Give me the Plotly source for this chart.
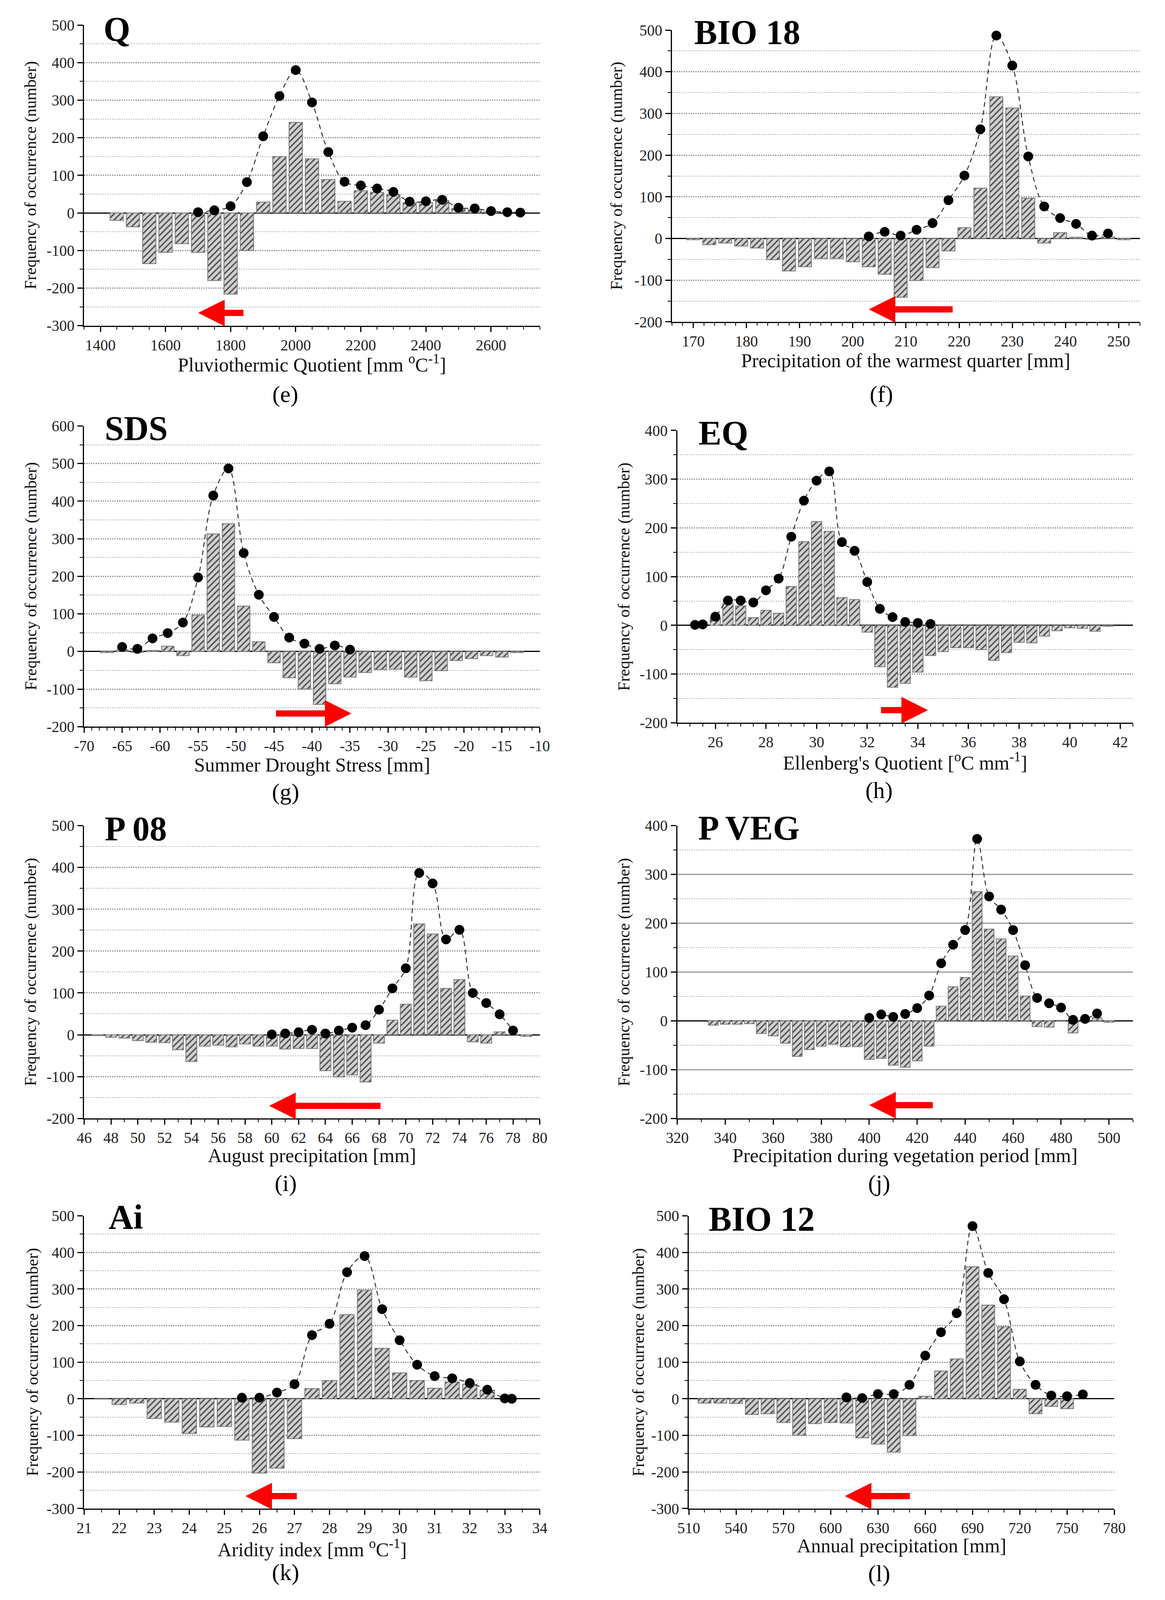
import plotly.graph_objects as go

W, H = 2982, 4971
FONT = "Liberation Serif"

# ---- (e) Q : Pluviothermic Quotient
q_bar_x = [1450, 1500, 1550, 1600, 1650, 1700, 1750, 1800, 1850, 1900, 1950, 2000,
           2050, 2100, 2150, 2200, 2250, 2300, 2350, 2400, 2450, 2500, 2550, 2600]
q_bar_y = [-20, -37, -135, -105, -82, -105, -180, -216, -100, 29, 150, 241,
           144, 89, 31, 59, 55, 49, 27, 28, 33, 12, 9, 3]
q_dot_x = [1700, 1750, 1800, 1850, 1900, 1950, 2000, 2050, 2100, 2150, 2200,
           2250, 2300, 2350, 2400, 2450, 2500, 2550, 2600, 2650, 2690]
q_dot_y = [2, 7, 18, 82, 204, 311, 380, 294, 162, 83, 73, 65, 56, 30, 31, 35, 14, 12, 5, 2, 1]
q_xticks = [1400, 1600, 1800, 2000, 2200, 2400, 2600]
q_arrow = [1843, 1700, -266]  # tail x, head x, y

# ---- (f) BIO 18 : precipitation of the warmest quarter
b18_bar_x = [170, 173, 176, 179, 182, 185, 188, 191, 194, 197, 200, 203, 206, 209,
             212, 215, 218, 221, 224, 227, 230, 233, 236, 239, 242, 245, 248, 251]
b18_bar_y = [-3, -15, -11, -18, -23, -51, -78, -68, -48, -48, -56, -68, -86, -141,
             -101, -70, -30, 26, 121, 340, 313, 97, -11, 14, 3, -2, 4, -3]
b18_dot_x = [203, 206, 209, 212, 215, 218, 221, 224, 227, 230, 233, 236, 239, 242, 245, 248]
b18_dot_y = [5, 16, 7, 21, 37, 92, 151, 262, 487, 415, 197, 77, 49, 35, 7, 12]
b18_xticks = [170, 180, 190, 200, 210, 220, 230, 240, 250]
b18_arrow = [219, 203, -170]

# ---- (g) SDS : summer drought stress
sds_bar_x = [-67, -65, -63, -61, -59, -57, -55, -53, -51, -49, -47, -45, -43, -41,
             -39, -37, -35, -33, -31, -29, -27, -25, -23, -21, -19, -17, -15, -13]
sds_bar_y = [-3, 4, -2, 3, 14, -11, 97, 313, 340, 121, 26, -30, -70, -100,
             -141, -86, -68, -56, -48, -47, -68, -78, -51, -24, -19, -11, -15, -3]
sds_dot_x = [-65, -63, -61, -59, -57, -55, -53, -51, -49, -47, -45, -43, -41, -39, -37, -35]
sds_dot_y = [12, 7, 35, 49, 77, 197, 415, 487, 262, 151, 92, 37, 21, 7, 16, 5]
sds_xticks = [-70, -65, -60, -55, -50, -45, -40, -35, -30, -25, -20, -15, -10]
sds_arrow = [-44.9, -34.8, -165]

# ---- (h) EQ : Ellenberg's quotient
eq_bar_x = [26, 26.5, 27, 27.5, 28, 28.5, 29, 29.5, 30, 30.5, 31, 31.5, 32, 32.5, 33, 33.5,
            34, 34.5, 35, 35.5, 36, 36.5, 37, 37.5, 38, 38.5, 39, 39.5, 40, 40.5, 41, 41.5]
eq_bar_y = [16, 45, 40, 16, 31, 25, 80, 172, 213, 193, 57, 53, -14, -85, -127, -119,
            -96, -62, -54, -46, -46, -50, -72, -56, -35, -36, -22, -11, -5, -6, -12, -2]
eq_dot_x = [25.2, 25.5, 26, 26.5, 27, 27.5, 28, 28.5, 29, 29.5, 30, 30.5, 31, 31.5,
            32, 32.5, 33, 33.5, 34, 34.5]
eq_dot_y = [1, 2, 18, 51, 51, 47, 72, 96, 182, 256, 297, 316, 171, 153, 89, 34, 17, 7, 5, 3]
eq_xticks = [26, 28, 30, 32, 34, 36, 38, 40, 42]
eq_arrow = [32.5, 34.4, -174]

# ---- (i) P 08 : August precipitation
p08_bar_x = [47, 48, 49, 50, 51, 52, 53, 54, 55, 56, 57, 58, 59, 60, 61, 62, 63,
             64, 65, 66, 67, 68, 69, 70, 71, 72, 73, 74, 75, 76, 77, 78, 79]
p08_bar_y = [-2, -6, -8, -14, -18, -19, -36, -64, -27, -25, -29, -22, -27, -27, -34, -33, -33,
             -86, -101, -96, -113, -20, 35, 73, 265, 241, 111, 132, -17, -20, 7, 0, -4]
p08_dot_x = [60, 61, 62, 63, 64, 65, 66, 67, 68, 69, 70, 71, 72, 73, 74, 75, 76, 77, 78]
p08_dot_y = [1, 3, 6, 12, 3, 10, 17, 23, 60, 111, 159, 387, 362, 228, 251, 100, 76, 49, 10]
p08_xticks = [46, 48, 50, 52, 54, 56, 58, 60, 62, 64, 66, 68, 70, 72, 74, 76, 78, 80]
p08_arrow = [68.2, 59.8, -170]

# ---- (j) P VEG : precipitation during vegetation period
pveg_bar_x = [335, 340, 345, 350, 355, 360, 365, 370, 375, 380, 385, 390, 395, 400, 405, 410, 415,
              420, 425, 430, 435, 440, 445, 450, 455, 460, 465, 470, 475, 480, 485, 490, 495, 500]
pveg_bar_y = [-9, -7, -7, -6, -26, -31, -46, -73, -59, -52, -48, -53, -53, -79, -77, -91, -95,
              -82, -52, 30, 70, 89, 265, 188, 168, 133, 51, -12, -13, 1, -25, -2, 6, -3]
pveg_dot_x = [400, 405, 410, 415, 420, 425, 430, 435, 440, 445, 450, 455, 460, 465, 470,
              475, 480, 485, 490, 495]
pveg_dot_y = [6, 13, 8, 14, 26, 52, 118, 156, 186, 373, 255, 228, 186, 114, 47, 36, 27, 2, 4, 15]
pveg_xticks = [320, 340, 360, 380, 400, 420, 440, 460, 480, 500]
pveg_arrow = [427, 400, -173]

# ---- (k) Ai : aridity index
ai_bar_x = [21.5, 22, 22.5, 23, 23.5, 24, 24.5, 25, 25.5, 26, 26.5, 27, 27.5, 28, 28.5,
            29, 29.5, 30, 30.5, 31, 31.5, 32, 32.5]
ai_bar_y = [-1, -16, -12, -54, -64, -95, -77, -76, -113, -203, -190, -109, 28, 50, 230,
            297, 138, 71, 50, 29, 46, 40, 24]
ai_dot_x = [25.5, 26, 26.5, 27, 27.5, 28, 28.5, 29, 29.5, 30, 30.5, 31, 31.5, 32, 32.5, 33, 33.2]
ai_dot_y = [3, 3, 17, 40, 174, 205, 346, 390, 245, 160, 93, 62, 56, 43, 25, 1, 0]
ai_xticks = [21, 22, 23, 24, 25, 26, 27, 28, 29, 30, 31, 32, 33, 34]
ai_arrow = [27.1, 25.6, -266]

# ---- (l) BIO 12 : annual precipitation
b12_bar_x = [520, 530, 540, 550, 560, 570, 580, 590, 600, 610, 620, 630, 640, 650,
             660, 670, 680, 690, 700, 710, 720, 730, 740, 750]
b12_bar_y = [-12, -12, -13, -43, -41, -65, -100, -68, -65, -66, -107, -124, -146, -101,
             7, 76, 109, 361, 256, 197, 26, -41, -21, -27]
b12_dot_x = [610, 620, 630, 640, 650, 660, 670, 680, 690, 700, 710, 720, 730, 740, 750, 760]
b12_dot_y = [4, 2, 13, 13, 38, 118, 182, 234, 472, 344, 272, 102, 38, 9, 7, 12]
b12_xticks = [510, 540, 570, 600, 630, 660, 690, 720, 750, 780]
b12_arrow = [651, 609, -266]

panels = [
    dict(name="Q", label="(e)", xtitle="Pluviothermic Quotient [mm <sup>o</sup>C<sup>-1</sup>]",
         bx=q_bar_x, by=q_bar_y, dx=q_dot_x, dy=q_dot_y, xt=q_xticks, arrow=q_arrow,
         xr=[1350, 2750], xminor=50, yr=[-300, 500]),
    dict(name="BIO 18", label="(f)", xtitle="Precipitation of the warmest quarter [mm]",
         bx=b18_bar_x, by=b18_bar_y, dx=b18_dot_x, dy=b18_dot_y, xt=b18_xticks, arrow=b18_arrow,
         xr=[166, 254], xminor=2, yr=[-200, 500]),
    dict(name="SDS", label="(g)", xtitle="Summer Drought Stress [mm]",
         bx=sds_bar_x, by=sds_bar_y, dx=sds_dot_x, dy=sds_dot_y, xt=sds_xticks, arrow=sds_arrow,
         xr=[-70, -10], xminor=1, yr=[-200, 600]),
    dict(name="EQ", label="(h)", xtitle="Ellenberg's Quotient [<sup>o</sup>C mm<sup>-1</sup>]",
         bx=eq_bar_x, by=eq_bar_y, dx=eq_dot_x, dy=eq_dot_y, xt=eq_xticks, arrow=eq_arrow,
         xr=[24.5, 42.5], xminor=0.5, yr=[-200, 400]),
    dict(name="P 08", label="(i)", xtitle="August precipitation [mm]",
         bx=p08_bar_x, by=p08_bar_y, dx=p08_dot_x, dy=p08_dot_y, xt=p08_xticks, arrow=p08_arrow,
         xr=[46, 80], xminor=1, yr=[-200, 500]),
    dict(name="P VEG", label="(j)", xtitle="Precipitation during vegetation period [mm]",
         bx=pveg_bar_x, by=pveg_bar_y, dx=pveg_dot_x, dy=pveg_dot_y, xt=pveg_xticks, arrow=pveg_arrow,
         xr=[320, 510], xminor=10, yr=[-200, 400], solidgrid=True),
    dict(name="Ai", label="(k)", xtitle="Aridity index [mm <sup>o</sup>C<sup>-1</sup>]",
         bx=ai_bar_x, by=ai_bar_y, dx=ai_dot_x, dy=ai_dot_y, xt=ai_xticks, arrow=ai_arrow,
         xr=[21, 34], xminor=0.5, yr=[-300, 500]),
    dict(name="BIO 12", label="(l)", xtitle="Annual precipitation [mm]",
         bx=b12_bar_x, by=b12_bar_y, dx=b12_dot_x, dy=b12_dot_y, xt=b12_xticks, arrow=b12_arrow,
         xr=[510, 780], xminor=10, yr=[-300, 500]),
]

# pixel layout of each panel (reference pixels): plot box (left, right, top, bottom),
# title / label anchors
boxes = [
    dict(box=(183, 1379, 43, 987), name_at=(232, 56), ytitle_x=43, xtitle_y=1106, label_at=(711, 1202)),
    dict(box=(1726, 2954, 59, 975), name_at=(1782, 66), ytitle_x=1581, xtitle_y=1096, label_at=(2275, 1202)),
    dict(box=(183, 1379, 1302, 2246), name_at=(235, 1309), ytitle_x=43, xtitle_y=2366, label_at=(712, 2450)),
    dict(box=(1740, 2936, 1316, 2234), name_at=(1794, 1324), ytitle_x=1600, xtitle_y=2356, label_at=(2269, 2446)),
    dict(box=(183, 1379, 2557, 3476), name_at=(235, 2566), ytitle_x=43, xtitle_y=3592, label_at=(712, 3680)),
    dict(box=(1740, 2936, 2557, 3476), name_at=(1792, 2564), ytitle_x=1600, xtitle_y=3592, label_at=(2270, 3680)),
    dict(box=(183, 1379, 3782, 4701), name_at=(245, 3786), ytitle_x=47, xtitle_y=4826, label_at=(712, 4901)),
    dict(box=(1770, 2887, 3782, 4701), name_at=(1820, 3792), ytitle_x=1638, xtitle_y=4818, label_at=(2270, 4905)),
]


def px(x):
    return x / W


def py(y):
    return 1 - y / H


def lab(v):
    return str(int(v)) if float(v).is_integer() else str(v)


fig = go.Figure()
layout = {}
annotations = []

for i, (p, b) in enumerate(zip(panels, boxes)):
    n = "" if i == 0 else str(i + 1)
    xa, ya = "x" + n, "y" + n
    l, r, t, btm = b["box"]

    fig.add_trace(go.Bar(
        x=p["bx"], y=p["by"], xaxis=xa, yaxis=ya, showlegend=False,
        marker=dict(color="#c4c4c4", line=dict(color="#7a7a7a", width=2),
                    pattern=dict(shape="/", fgcolor="#4a4a4a", bgcolor="#cfcfcf",
                                 size=11, solidity=0.3, fillmode="replace")),
    ))
    fig.add_trace(go.Scatter(
        x=p["dx"], y=p["dy"], xaxis=xa, yaxis=ya, showlegend=False,
        mode="lines+markers",
        line=dict(color="#333333", width=2.5, dash="12px,9px", shape="spline", smoothing=1),
        marker=dict(color="black", size=25),
    ))

    yticks = list(range(p["yr"][0], p["yr"][1] + 1, 100))
    if p.get("solidgrid"):
        grid = dict(gridcolor="#9a9a9a", gridwidth=2.5, griddash="solid")
    else:
        grid = dict(gridcolor="#8a8a8a", gridwidth=2.5, griddash="dot")

    layout["xaxis" + n] = dict(
        domain=[px(l), px(r)], range=p["xr"], anchor=ya,
        showline=True, linecolor="black", linewidth=3,
        ticks="outside", ticklen=13, tickwidth=3, tickcolor="black",
        tickmode="array", tickvals=p["xt"], ticktext=[lab(v) for v in p["xt"]],
        tickfont=dict(family=FONT, size=39, color="#222222"),
        showgrid=False, zeroline=False,
        minor=dict(ticks="outside", ticklen=7, tickwidth=2, tickcolor="black",
                   tickmode="linear", tick0=p["xt"][0], dtick=p["xminor"], showgrid=False),
    )
    layout["yaxis" + n] = dict(
        domain=[py(btm), py(t)], range=p["yr"], anchor=xa,
        showline=True, linecolor="black", linewidth=3,
        ticks="outside", ticklen=14, tickwidth=3, tickcolor="black",
        tickmode="array", tickvals=yticks, ticktext=[lab(v) for v in yticks],
        tickfont=dict(family=FONT, size=39, color="#222222"),
        showgrid=True, **grid,
        zeroline=True, zerolinecolor="black", zerolinewidth=3,
        minor=dict(ticks="outside", ticklen=8, tickwidth=2, tickcolor="black",
                   tickmode="linear", tick0=0, dtick=50,
                   showgrid=True, gridcolor="#b0b0b0", gridwidth=1.8, griddash="dot"),
    )

    # panel name inside the plot
    annotations.append(dict(
        text="<b>%s</b>" % p["name"], xref="paper", yref="paper",
        x=px(b["name_at"][0]), y=py(b["name_at"][1]), xanchor="left", yanchor="middle",
        showarrow=False, font=dict(family=FONT, size=88, color="black"),
    ))
    # y axis title
    annotations.append(dict(
        text="Frequency of occurrence (number)", xref="paper", yref="paper",
        x=px(b["ytitle_x"]), y=py((t + btm) / 2), textangle=-90,
        xanchor="center", yanchor="middle", showarrow=False,
        font=dict(family=FONT, size=42, color="#111111"),
    ))
    # x axis title
    annotations.append(dict(
        text=p["xtitle"], xref="paper", yref="paper",
        x=px((l + r) / 2), y=py(b["xtitle_y"]), xanchor="center", yanchor="middle",
        showarrow=False, font=dict(family=FONT, size=50, color="#111111"),
    ))
    # sub-figure label
    annotations.append(dict(
        text=p["label"], xref="paper", yref="paper",
        x=px(b["label_at"][0]), y=py(b["label_at"][1]), xanchor="center", yanchor="middle",
        showarrow=False, font=dict(family=FONT, size=60, color="black"),
    ))
    # red shift arrow
    tail, head, ay = p["arrow"]
    annotations.append(dict(
        text=" ", xref=xa, yref=ya, axref=xa, ayref=ya,
        x=head, y=ay, ax=tail, ay=ay, showarrow=True,
        arrowhead=2, arrowsize=0.85, arrowwidth=16, arrowcolor="#ff0000", standoff=0,
    ))

fig.update_layout(
    autosize=True,
    margin=dict(l=0, r=0, t=0, b=0),
    paper_bgcolor="white", plot_bgcolor="white",
    bargap=0.18,
    font=dict(family=FONT, color="#111111"),
    annotations=annotations,
    **layout,
)

fig.write_html("out.html", default_width="100%", default_height="100vh",
               config={"responsive": True})
